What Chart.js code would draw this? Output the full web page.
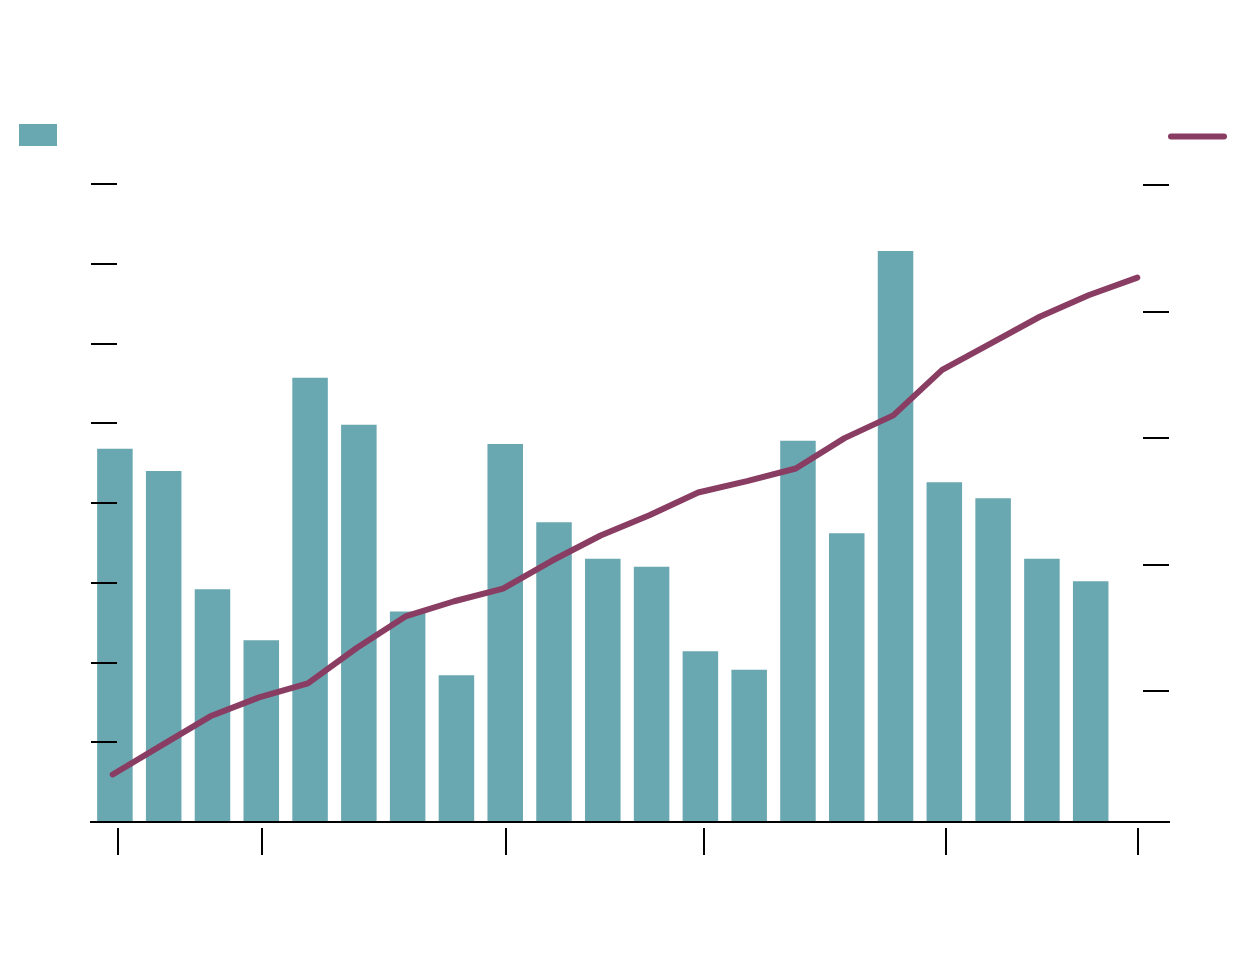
<!DOCTYPE html>
<html lang="en">
<head>
  <meta charset="UTF-8">
  <title>Chart</title>
  <script src="https://cdn.jsdelivr.net/npm/chart.js"></script>
  <style>
    html, body {
      margin: 0;
      padding: 0;
      background: #fff;
    }
    #wrap {
      width: 1240px;
      height: 970px;
    }
  </style>
</head>
<body>
  <div id="wrap"><canvas id="chart"></canvas></div>

  <script>
    // periods along the bottom axis (one per bar / line point)
    const periods = [0, 1, 2, 3, 4, 5, 6, 7, 8, 9, 10, 11, 12, 13, 14, 15, 16, 17, 18, 19, 20, 21];
    // bars, left axis
    const barValues = [4.68, 4.40, 2.92, 2.28, 5.57, 4.98, 2.64, 1.84, 4.74, 3.76, 3.30,
                       3.20, 2.14, 1.91, 4.78, 3.62, 7.16, 4.26, 4.06, 3.30, 3.02];
    // line, right axis
    const lineValues = [0.34, 0.57, 0.80, 0.95, 1.06, 1.34, 1.59, 1.71, 1.81, 2.03, 2.23,
                        2.39, 2.57, 2.66, 2.76, 3.00, 3.18, 3.54, 3.75, 3.96, 4.13, 4.27];
    const leftTicks = [0, 1, 2, 3, 4, 5, 6, 7, 8];
    const rightTicks = [1, 2, 3, 4, 5];
    const bottomTicks = [0.1, 3.05, 8.07, 12.12, 17.08, 21.02];

    const barColor = "#69a7b1";
    const lineColor = "#8a3d62";

    // chart area edges (px)
    const areaLeft = 91, areaRight = 1169;
    const areaWidth = areaRight - areaLeft;
    // bars sit a touch right of the line points
    const barShift = 0.045;

    const setTicks = list => scale => {
      scale.ticks = list.map(v => ({ value: v }));
    };

    // legend swatches without text
    const swatches = {
      id: "swatches",
      afterDraw(chart) {
        const ctx = chart.ctx;
        ctx.save();
        ctx.fillStyle = barColor;
        ctx.fillRect(19, 124, 38, 22);
        ctx.strokeStyle = lineColor;
        ctx.lineWidth = 6;
        ctx.lineCap = "round";
        ctx.beginPath();
        ctx.moveTo(1171, 136.5);
        ctx.lineTo(1224, 136.5);
        ctx.stroke();
        ctx.restore();
      }
    };

    new Chart(document.getElementById("chart"), {
      data: {
        datasets: [
          {
            type: "line",
            data: periods.map((p, i) => ({ x: p, y: lineValues[i] })),
            yAxisID: "y2",
            borderColor: lineColor,
            borderWidth: 6,
            borderCapStyle: "round",
            borderJoinStyle: "round",
            pointRadius: 0,
            tension: 0,
            order: 0
          },
          {
            type: "bar",
            data: barValues.map((v, i) => ({ x: periods[i] + barShift, y: v })),
            yAxisID: "y",
            backgroundColor: barColor,
            categoryPercentage: 1,
            barPercentage: 0.728,
            order: 1
          }
        ]
      },
      options: {
        responsive: true,
        maintainAspectRatio: false,
        animation: false,
        layout: {
          padding: { left: areaLeft, right: 1240 - areaRight, top: 184, bottom: 115 }
        },
        plugins: {
          legend: { display: false },
          tooltip: { enabled: false }
        },
        scales: {
          x: {
            type: "linear",
            min: -0.445,
            max: 21.65,
            offset: false,
            afterBuildTicks: setTicks(bottomTicks),
            ticks: { display: false },
            grid: {
              offset: false,
              z: 1,
              drawOnChartArea: false,
              drawTicks: true,
              tickLength: 33,
              color: "#000",
              lineWidth: 2,
              tickWidth: 2,
              tickBorderDash: [0, 5, 28, 50]
            },
            border: { display: true, color: "#000", width: 2, z: 1 }
          },
          y: {
            position: "left",
            min: 0,
            max: 8,
            afterBuildTicks: setTicks(leftTicks),
            ticks: { display: false },
            grid: { z: 1, drawTicks: false, color: "#000", lineWidth: 2 },
            border: { display: false, dash: [26, 3000] }
          },
          y2: {
            position: "right",
            min: -0.036,
            max: 5.01,
            afterBuildTicks: setTicks(rightTicks),
            ticks: { display: false },
            grid: { z: 1, drawTicks: false, color: "#000", lineWidth: 2 },
            border: { display: false, dash: [0, areaWidth - 26, 30, 3000] }
          }
        }
      },
      plugins: [swatches]
    });
  </script>
</body>
</html>
